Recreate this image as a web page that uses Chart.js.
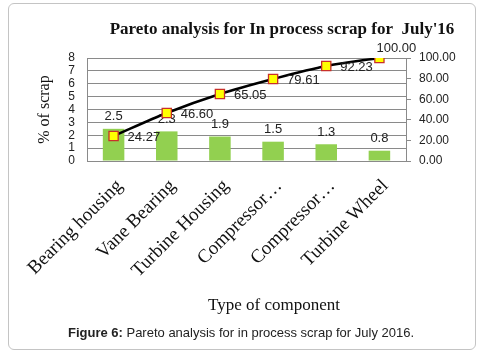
<!DOCTYPE html>
<html>
<head>
<meta charset="utf-8">
<script src="https://cdn.jsdelivr.net/npm/chart.js@4/dist/chart.umd.min.js"></script>
<style>
    body { margin: 0; background: #fff; }
    .wrap { position: relative; width: 487px; height: 355px; overflow: hidden; }
    .frame { position: absolute; left: 8px; top: 3px; width: 468px; height: 347px; box-sizing: border-box;
        border: 1px solid #c4c4c4; border-radius: 6px; }
    canvas { position: absolute; left: 0; top: 0; }
    .title { position: absolute; left: 282px; top: 19px; transform: translateX(-50%); white-space: nowrap;
        font: bold 17px "Liberation Serif"; line-height: 20px; color: #111; }
    .xtitle { position: absolute; left: 274px; top: 295px; transform: translateX(-50%); white-space: nowrap;
        font: 17px "Liberation Serif"; line-height: 20px; color: #111; }
    .caption { position: absolute; left: 241px; top: 325px; transform: translateX(-50%); white-space: nowrap;
        font: 13px "Liberation Sans"; line-height: 16px; color: #222; }
</style>
</head>
<body>
<div class="wrap">
    <div class="frame"></div>
    <canvas id="chart" width="487" height="355"></canvas>
    <div class="title">Pareto analysis for In process scrap for&nbsp; July'16</div>
    <div class="xtitle">Type of component</div>
    <div class="caption"><b>Figure 6:</b> Pareto analysis for in process scrap for July 2016.</div>
</div>
<script>
const categories = ['Bearing housing', 'Vane Bearing', 'Turbine Housing', 'Compressor…', 'Compressor…', 'Turbine Wheel'];
const scrapPct = [2.5, 2.3, 1.9, 1.5, 1.3, 0.8];
const cumulativePct = [24.27, 46.60, 65.05, 79.61, 92.23, 100.00];
const leftAxis = {min: 0, max: 8, step: 1};
const rightAxis = {min: 0, max: 100, step: 20};

const gridGray = '#8a8a8a';

// value labels: bars get one decimal above, the line gets two decimals to the right
const valueLabels = {
    id: 'valueLabels',
    afterDatasetDraw(chart, args) {
        const ctx = chart.ctx;
        const meta = args.meta;
        const values = chart.data.datasets[args.index].data;
        ctx.save();
        ctx.font = '13px "Liberation Sans"';
        ctx.fillStyle = '#222';
        ctx.textBaseline = 'middle';
        meta.data.forEach((el, i) => {
            if (meta.type === 'bar') {
                ctx.textAlign = 'center';
                ctx.fillText(values[i].toFixed(1), el.x, el.y - 12);
            } else {
                const last = i === values.length - 1;
                ctx.textAlign = 'left';
                if (last) {
                    ctx.fillText(values[i].toFixed(2), el.x - 3, el.y - 10);
                } else {
                    ctx.fillText(values[i].toFixed(2), el.x + 14, el.y + 1);
                }
            }
        });
        ctx.restore();
    }
};

new Chart(document.getElementById('chart'), {
    type: 'bar',
    data: {
        labels: categories,
        datasets: [
            {
                type: 'bar',
                data: scrapPct,
                yAxisID: 'y',
                backgroundColor: '#92D050',
                categoryPercentage: 1,
                barPercentage: 0.405,
                order: 1
            },
            {
                type: 'line',
                data: cumulativePct,
                yAxisID: 'y1',
                borderColor: '#000',
                borderWidth: 2.5,
                tension: 0.3,
                pointStyle: 'rect',
                pointRadius: 6.5,
                pointBackgroundColor: '#FFFF00',
                pointBorderColor: '#C8302A',
                pointBorderWidth: 1.3,
                order: 0
            }
        ]
    },
    options: {
        responsive: false,
        animation: false,
        layout: {padding: {top: 58, left: 0, right: 0, bottom: 0}},
        plugins: {
            legend: {display: false},
            tooltip: {enabled: false},
            title: {display: false}
        },
        scales: {
            x: {
                grid: {display: true, drawOnChartArea: false, drawTicks: false},
                border: {display: true, color: gridGray},
                ticks: {
                    autoSkip: false,
                    minRotation: 45,
                    maxRotation: 45,
                    padding: 14,
                    labelOffset: 6,
                    color: '#111',
                    font: {family: 'Liberation Serif', size: 19}
                },
                afterFit: s => { s.height = 194; }
            },
            y: {
                position: 'left',
                min: leftAxis.min,
                max: leftAxis.max,
                ticks: {
                    stepSize: leftAxis.step,
                    autoSkip: false,
                    padding: 12,
                    color: '#222',
                    font: {family: 'Liberation Sans', size: 12}
                },
                grid: {color: gridGray, drawTicks: false},
                border: {display: true, color: gridGray},
                title: {
                    display: true,
                    text: '% of scrap',
                    color: '#111',
                    font: {family: 'Liberation Serif', size: 16},
                    padding: {top: 35, bottom: 0}
                },
                afterFit: s => { s.width = 87; }
            },
            y1: {
                position: 'right',
                min: rightAxis.min,
                max: rightAxis.max,
                ticks: {
                    stepSize: rightAxis.step,
                    autoSkip: false,
                    padding: 8,
                    color: '#222',
                    font: {family: 'Liberation Sans', size: 12},
                    callback: v => v.toFixed(2)
                },
                grid: {drawOnChartArea: false, color: gridGray, tickLength: 5},
                border: {display: true, color: gridGray},
                afterFit: s => { s.width = 81; }
            }
        }
    },
    plugins: [valueLabels]
});
</script>
</body>
</html>
